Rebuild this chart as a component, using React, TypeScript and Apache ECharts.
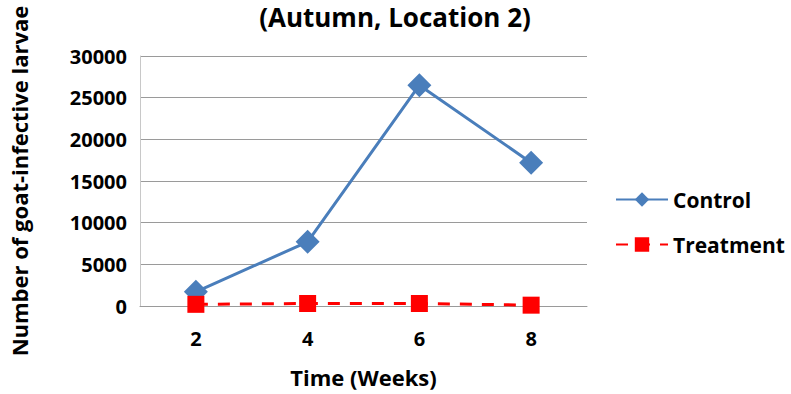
import React, { useEffect, useRef } from "react";
import * as echarts from "echarts";

const weeks = ["2", "4", "6", "8"];
const controlValues = [1700, 7700, 26500, 17200];
const treatmentValues = [200, 300, 300, 100];
const chartTitle = "(Autumn, Location 2)";
const yAxisTitle = "Number of goat-infective larvae";
const xAxisTitle = "Time (Weeks)";

const FONT = "'Open Sans', 'Liberation Sans', sans-serif";

export default function App() {
  const ref = useRef<HTMLDivElement>(null);

  useEffect(() => {
    if (!ref.current) return;
    const chart = echarts.init(ref.current, null, { renderer: "svg" });
    chart.setOption({
      animation: false,
      backgroundColor: "#ffffff",
      textStyle: { fontFamily: FONT },
      title: {
        text: chartTitle,
        left: 395,
        textAlign: "center",
        top: 3,
        padding: 0,
        textStyle: { fontFamily: FONT, fontSize: 26, lineHeight: 28, fontWeight: "bold", color: "#000" },
      },
      grid: { left: 140, right: 204, top: 56, bottom: 88, outerBoundsMode: "none", containLabel: false },
      legend: {
        orient: "vertical",
        left: 610,
        top: 184,
        itemWidth: 52,
        itemHeight: 18,
        itemGap: 24,
        textStyle: { fontFamily: FONT, fontSize: 21, fontWeight: "bold", color: "#000" },
        data: ["Control", "Treatment"],
      },
      xAxis: {
        type: "category",
        data: weeks,
        boundaryGap: true,
        name: xAxisTitle,
        nameLocation: "middle",
        nameGap: 60,
        nameTextStyle: { fontFamily: FONT, fontSize: 22, fontWeight: "bold", color: "#000" },
        axisLine: { lineStyle: { color: "#9a9a9a", width: 1 } },
        axisTick: { show: false },
        axisLabel: { fontFamily: FONT, fontSize: 20, fontWeight: "bold", color: "#000", margin: 22 },
      },
      yAxis: {
        type: "value",
        min: 0,
        max: 30000,
        interval: 5000,
        name: yAxisTitle,
        nameLocation: "middle",
        nameGap: 110,
        nameTextStyle: { fontFamily: FONT, fontSize: 22, fontWeight: "bold", color: "#000" },
        axisLine: { show: true, lineStyle: { color: "#c8c8c8", width: 1 } },
        axisTick: { show: false },
        axisLabel: {
          fontFamily: FONT,
          fontSize: 20,
          fontWeight: "bold",
          color: "#000",
          margin: 13,
          formatter: (v: number) => String(v),
        },
        splitLine: { lineStyle: { color: "#9a9a9a", width: 1 } },
      },
      series: [
        {
          name: "Control",
          type: "line",
          data: controlValues,
          symbol: "diamond",
          symbolSize: 24,
          lineStyle: { color: "#4a7ebb", width: 3 },
          itemStyle: { color: "#4a7ebb" },
          z: 2,
        },
        {
          name: "Treatment",
          type: "line",
          data: treatmentValues,
          symbol: "rect",
          symbolSize: 17,
          lineStyle: { color: "#ff0000", width: 3, type: [12, 10] },
          itemStyle: { color: "#ff0000" },
          z: 3,
        },
      ],
    });
    return () => chart.dispose();
  }, []);

  return <div ref={ref} style={{ position: "fixed", left: 0, top: 0, width: 791, height: 394 }} />;
}
